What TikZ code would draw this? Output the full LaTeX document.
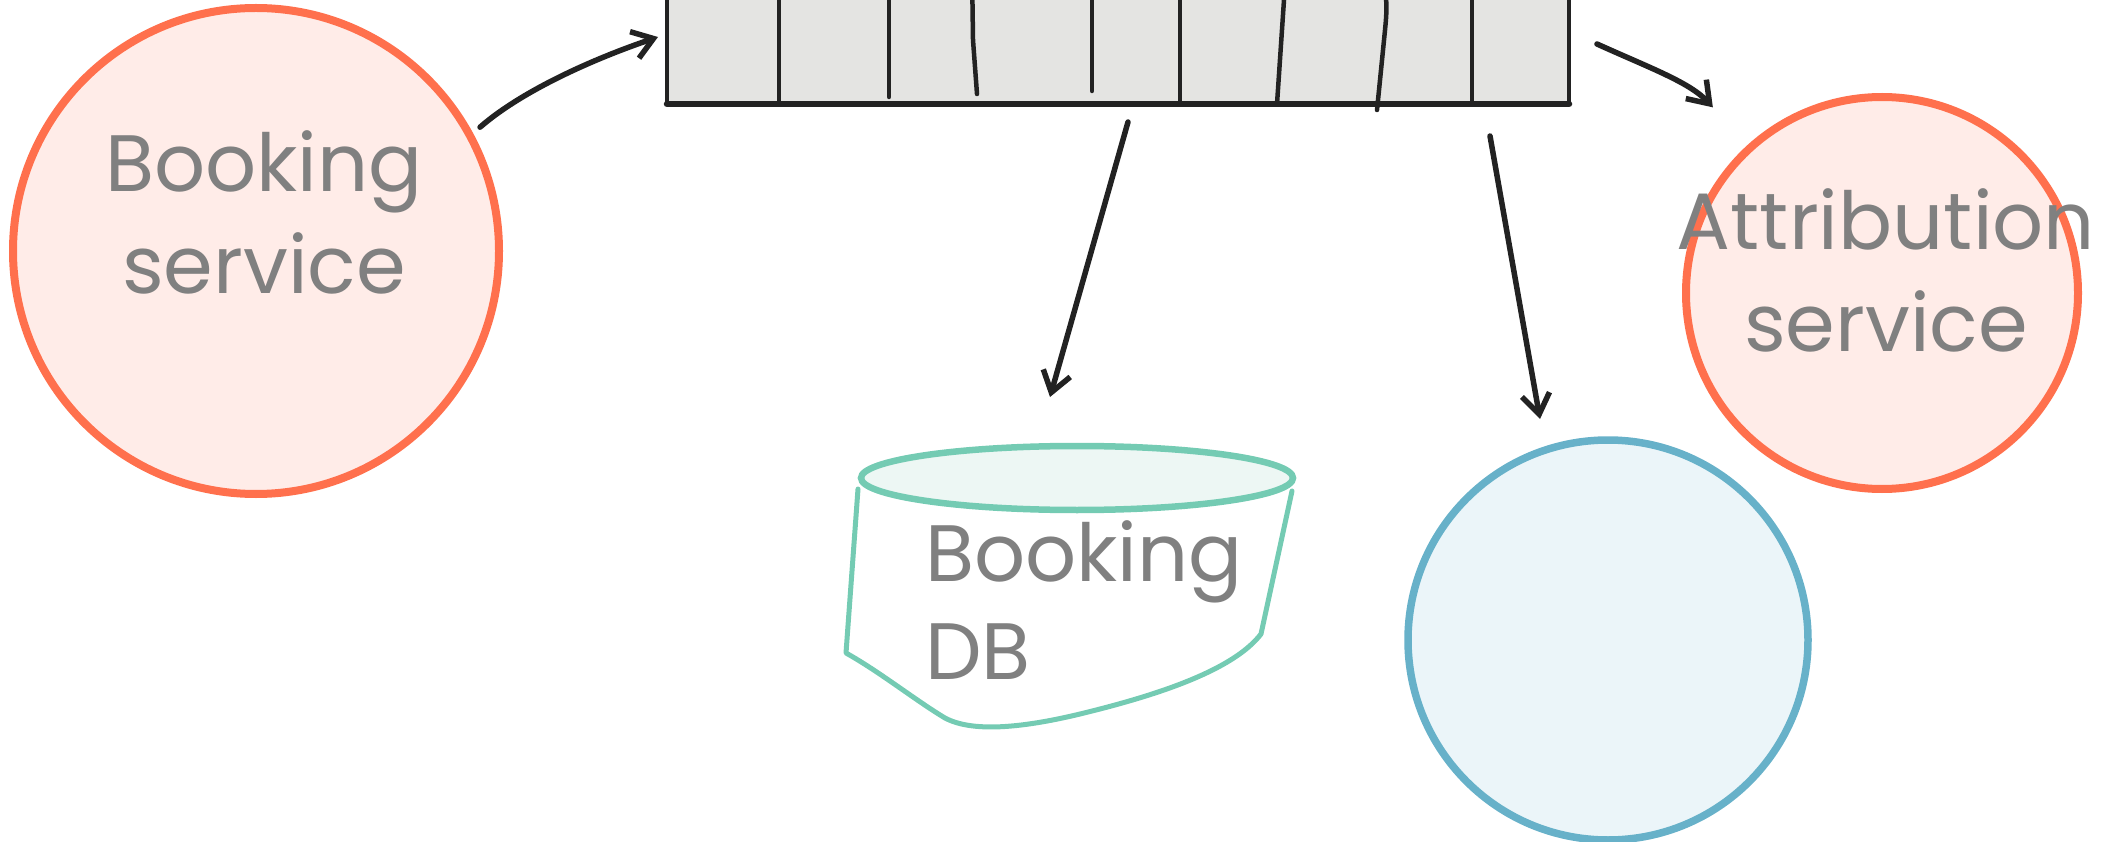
\documentclass[tikz,border=0pt]{standalone}
\usepackage{fontspec}
\setmainfont{Poppins}
\usetikzlibrary{arrows.meta,shapes.geometric,calc}
\definecolor{svcstroke}{RGB}{255,112,77}
\definecolor{svcfill}{RGB}{255,236,232}
\definecolor{dbstroke}{RGB}{116,203,179}
\definecolor{dbfill}{RGB}{237,247,244}
\definecolor{bluestroke}{RGB}{103,177,201}
\definecolor{bluefill}{RGB}{235,245,249}
\definecolor{qfill}{RGB}{228,228,226}
\definecolor{txtgray}{RGB}{128,128,128}
\definecolor{ink}{RGB}{34,34,34}
\begin{document}
\begin{tikzpicture}[x=1pt,y=-1pt,
  svc/.style={circle,draw=svcstroke,fill=svcfill,line width=8pt,inner sep=0pt,outer sep=0pt},
  bluecirc/.style={circle,draw=bluestroke,fill=bluefill,line width=7.5pt,inner sep=0pt,outer sep=0pt},
  qbox/.style={rectangle,draw=ink,fill=qfill,line width=4.5pt,inner sep=0pt,outer sep=0pt},
  dbtop/.style={ellipse,draw=dbstroke,fill=dbfill,line width=6.5pt,inner sep=0pt,outer sep=0pt},
  dbline/.style={draw=dbstroke,line width=5pt,line cap=round,line join=round},
  lbl/.style={text=txtgray,font=\fontsize{80}{100}\selectfont,inner sep=0pt,outer sep=0pt,anchor=base},
  arr/.style={draw=ink,line width=5.5pt,line cap=round,line join=round,-{Straight Barb[length=20pt,width=28pt]}},
  divider/.style={draw=ink,line width=4.5pt,line cap=round},
]
\path[use as bounding box] (0,0) rectangle (2110,842);
\clip (0,0) rectangle (2110,842);

% queue
\node[qbox,minimum width=902pt,minimum height=134pt] (q) at (1118,37) {};
\draw[ink,line width=6.5pt,line cap=round] (q.south west) -- (q.south east);
\draw[divider] (779,-30) -- (779,104);
\draw[divider] (889,-30) -- (889,97);
\draw[divider] (972,-30) -- (973,40) -- (977,94);
\draw[divider] (1092,-30) -- (1092,91);
\draw[divider] (1180,-30) -- (1180,104);
\draw[divider] (1286,-30) -- (1277,104);
\draw[divider] (1380,-30) .. controls (1388,-5) and (1387,10) .. (1385,30) -- (1377,110);
\draw[divider] (1472,-30) -- (1472,104);

% services
\node[svc,minimum size=486pt] (bs) at (256,251) {};
\node[svc,minimum size=392pt] (as) at (1882,293) {};
\node[bluecirc,minimum size=400pt] (bc) at (1608,640) {};

% database
\node[dbtop,minimum width=432pt,minimum height=64pt] (db) at (1077,478) {};
\draw[dbline] (858,489) -- (846,653)
  .. controls (880,672) and (915,700) .. (945,718)
  .. controls (975,734) and (1030,726) .. (1080,714)
  .. controls (1150,697) and (1232,672) .. (1261,634) -- (1292,491);

% labels
\node[lbl] (bsl1) at (264,192) {Booking};
\node[lbl] (bsl2) at (264,294) {service};
\node[lbl] (asl1) at (1886,250) {Attribution};
\node[lbl] (asl2) at (1886,352) {service};
\node[lbl,anchor=base west] (dbl1) at (925,581) {Booking};
\node[lbl,anchor=base west] (dbl2) at (925,679) {DB};

% connectors
\draw[arr] ([shift={(11.5,-6)}]bs.29) .. controls +(40,-35) and +(-68,23) .. ([xshift=-9pt]q.west);
\draw[arr] ([shift={(28,7)}]q.east) .. controls +(53,24) and +(-23,-25) .. ([shift={(-38,-40)}]as.132);
\draw[arr] ([shift={(10,18)}]q.south) -- ([shift={(-27,-49)}]db.north);
\draw[arr] ([shift={(372,32)}]q.south) -- ([shift={(-68,-21)}]bc.north);
\end{tikzpicture}
\end{document}
